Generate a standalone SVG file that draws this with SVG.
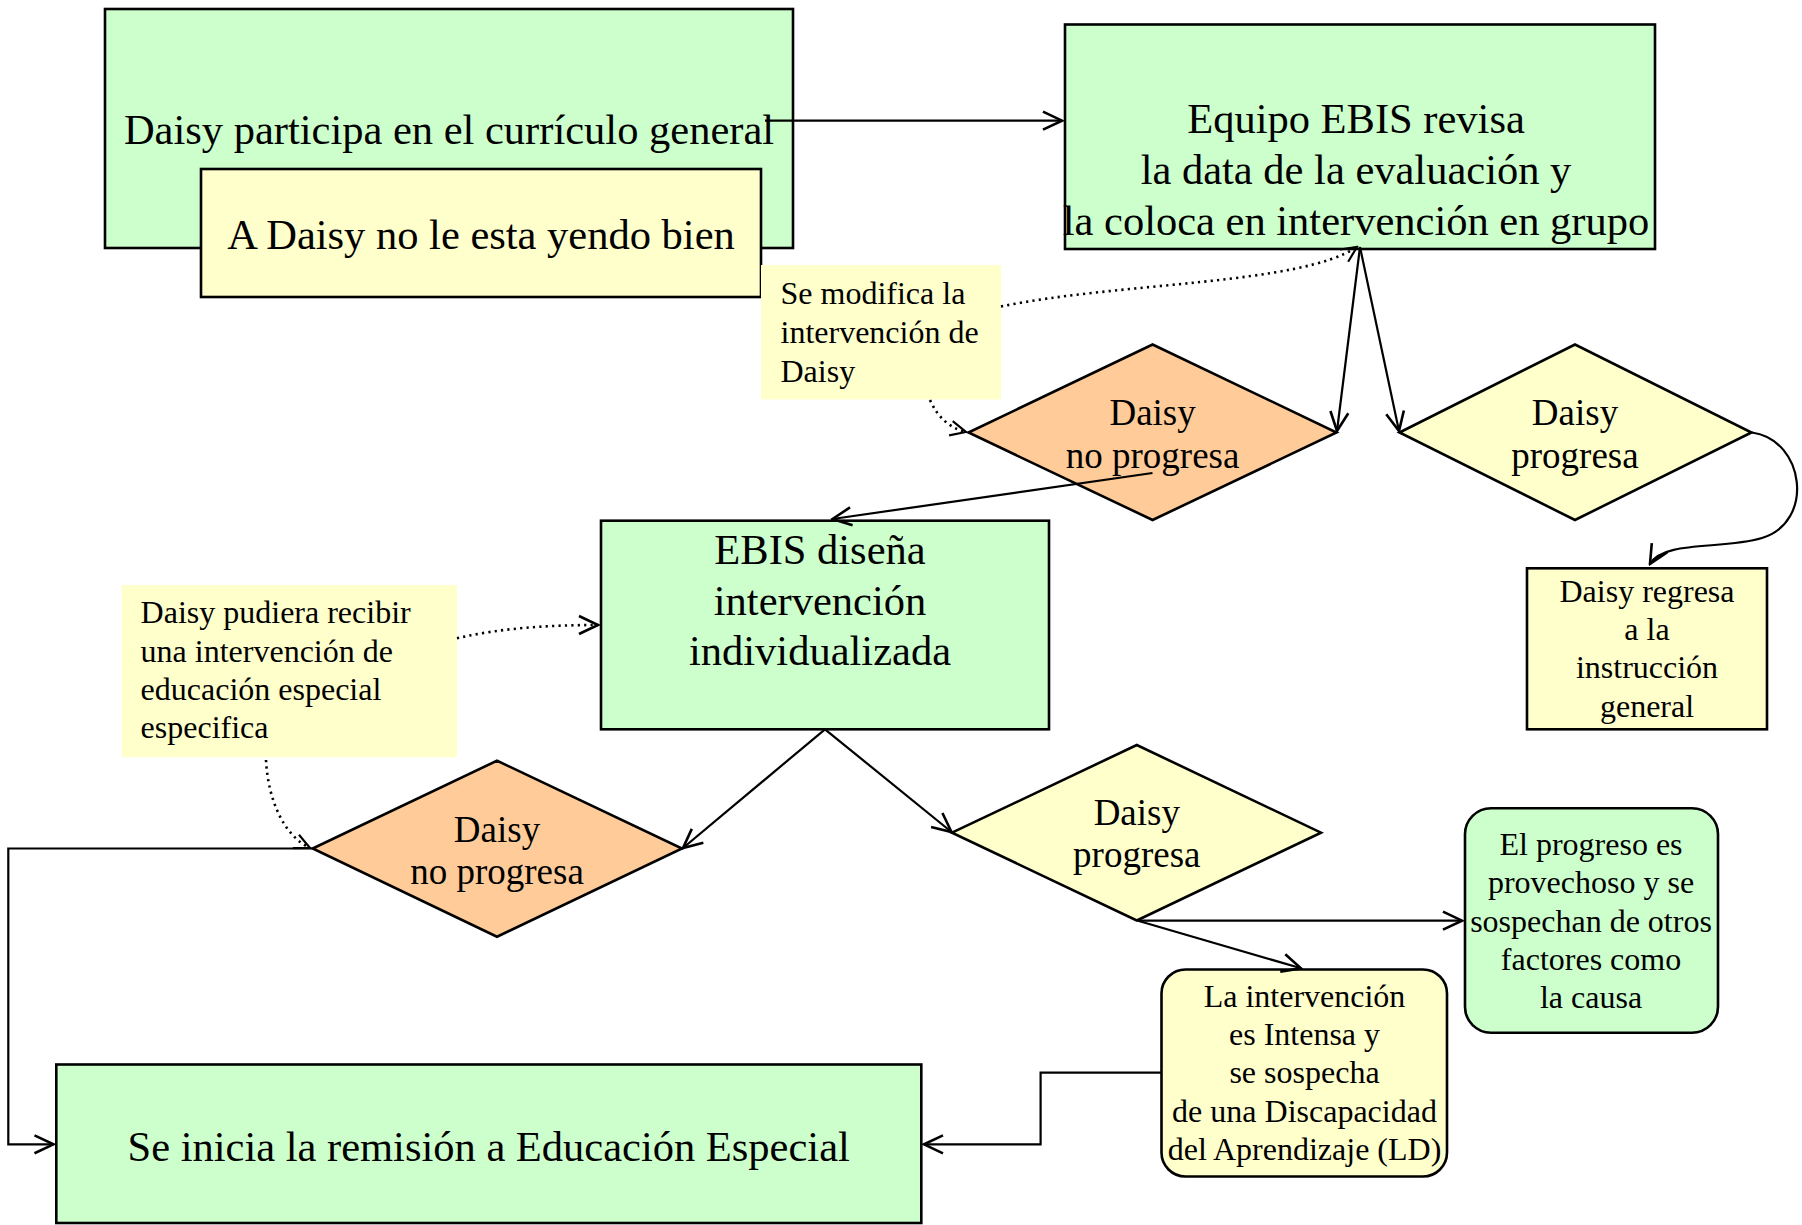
<svg xmlns="http://www.w3.org/2000/svg" width="1802" height="1225" viewBox="0 0 1802 1225">
<style>
.box{stroke:#000;stroke-width:2.6}
.g{fill:#CCFFCC}
.y{fill:#FFFFCC}
.o{fill:#FFCC99}
.note{fill:#FFFFCC;stroke:none}
text{font-family:"Liberation Serif","Times New Roman",serif;fill:#000}
.big{font-size:42.5px;text-anchor:middle}
.dia{font-size:37px;text-anchor:middle}
.sm{font-size:32px}
.smc{font-size:32px;text-anchor:middle}
.c{fill:none;stroke:#000;stroke-width:2.2}
.d{fill:none;stroke:#000;stroke-width:2.6;stroke-dasharray:2.2 4.2}
</style>
<defs>
<marker id="a" viewBox="0 0 22 22" refX="20" refY="11" markerWidth="22" markerHeight="22" markerUnits="userSpaceOnUse" orient="auto">
<path d="M1,2 L20,11 L1,20" fill="none" stroke="#000" stroke-width="2.6"/>
</marker>
<marker id="as" viewBox="0 0 22 22" refX="20" refY="11" markerWidth="18" markerHeight="18" markerUnits="userSpaceOnUse" orient="auto">
<path d="M1,2 L20,11 L1,20" fill="none" stroke="#000" stroke-width="2.6"/>
</marker>
</defs>

<g id="n-participa">
<rect class="box g" x="105" y="9" width="688" height="239"/>
<text class="big" x="449" y="144">Daisy participa en el currículo general</text>
</g>

<g id="n-noyendo">
<rect class="box y" x="201" y="169" width="560" height="128"/>
<text class="big" x="481" y="249">A Daisy no le esta yendo bien</text>
</g>

<g id="n-ebis-revisa">
<rect class="box g" x="1065" y="24.5" width="590" height="224.5"/>
<text class="big" x="1356" y="132.7">Equipo EBIS revisa</text>
<text class="big" x="1356" y="183.5">la data de la evaluación y</text>
<text class="big" x="1356" y="235">la coloca en intervención en grupo</text>
</g>

<g id="n-se-modifica">
<rect class="note" x="761" y="265" width="240" height="134.5"/>
<text class="sm" x="780.5" y="304">Se modifica la</text>
<text class="sm" x="780.5" y="343">intervención de</text>
<text class="sm" x="780.5" y="382">Daisy</text>
</g>

<g id="n-no-progresa-1">
<polygon class="box o" points="968.5,432.5 1152.6,344.5 1336.5,432.5 1152.6,520"/>
<text class="dia" x="1152.6" y="425">Daisy</text>
<text class="dia" x="1152.6" y="468">no progresa</text>
</g>

<g id="n-progresa-1">
<polygon class="box y" points="1399.5,432.5 1575,344.5 1751.5,432.5 1575,520"/>
<text class="dia" x="1575" y="425">Daisy</text>
<text class="dia" x="1575" y="468">progresa</text>
</g>

<g id="n-regresa">
<rect class="box y" x="1527" y="568.3" width="240" height="161"/>
<text class="smc" x="1647" y="601.7">Daisy regresa</text>
<text class="smc" x="1647" y="640">a la</text>
<text class="smc" x="1647" y="678.3">instrucción</text>
<text class="smc" x="1647" y="716.7">general</text>
</g>

<g id="n-ebis-disena">
<rect class="box g" x="601" y="520.7" width="448" height="208.6"/>
<text class="big" x="820" y="564">EBIS diseña</text>
<text class="big" x="820" y="615">intervención</text>
<text class="big" x="820" y="665">individualizada</text>
</g>

<g id="n-pudiera">
<rect class="note" x="121.7" y="585" width="335.3" height="172.3"/>
<text class="sm" x="140.6" y="623.3">Daisy pudiera recibir</text>
<text class="sm" x="140.6" y="661.7">una intervención de</text>
<text class="sm" x="140.6" y="700">educación especial</text>
<text class="sm" x="140.6" y="738.3">especifica</text>
</g>

<g id="n-no-progresa-2">
<polygon class="box o" points="312.7,848.5 497,760.7 682,848.5 497,936.7"/>
<text class="dia" x="497" y="842">Daisy</text>
<text class="dia" x="497" y="884">no progresa</text>
</g>

<g id="n-progresa-2">
<polygon class="box y" points="952,832.7 1136.8,745 1321,832.7 1136.8,920.5"/>
<text class="dia" x="1136.8" y="825">Daisy</text>
<text class="dia" x="1136.8" y="867">progresa</text>
</g>

<g id="n-provechoso">
<rect class="box g" x="1465" y="808.3" width="253" height="224.4" rx="26" ry="26"/>
<text class="smc" x="1591" y="855">El progreso es</text>
<text class="smc" x="1591" y="893.3">provechoso y se</text>
<text class="smc" x="1591" y="931.6">sospechan de otros</text>
<text class="smc" x="1591" y="970">factores como</text>
<text class="smc" x="1591" y="1008.3">la causa</text>
</g>

<g id="n-intensa">
<rect class="box y" x="1161.5" y="969.5" width="285.5" height="207" rx="24" ry="24"/>
<text class="smc" x="1304.5" y="1006.7">La intervención</text>
<text class="smc" x="1304.5" y="1045">es Intensa y</text>
<text class="smc" x="1304.5" y="1083.3">se sospecha</text>
<text class="smc" x="1304.5" y="1121.7">de una Discapacidad</text>
<text class="smc" x="1304.5" y="1160">del Aprendizaje (LD)</text>
</g>

<g id="n-remision">
<rect class="box g" x="56.3" y="1064.5" width="865" height="158.5"/>
<text class="big" x="488.7" y="1160.7">Se inicia la remisión a Educación Especial</text>
</g>

<g id="connectors">
<line class="c" x1="765" y1="120.7" x2="1062" y2="120.7" marker-end="url(#a)"/>
<line class="c" x1="1360" y1="247" x2="1337" y2="431" marker-end="url(#a)"/>
<line class="c" x1="1360" y1="247" x2="1399" y2="431" marker-end="url(#a)"/>
<path class="d" d="M1001,306.5 C1120,282 1300,285 1357,247" marker-end="url(#as)"/>
<path class="d" d="M930,400 C938,418 950,428 966,432" marker-end="url(#as)"/>
<line class="c" x1="1152.5" y1="473" x2="832.5" y2="519" marker-end="url(#a)"/>
<path class="c" d="M1752,432.5 C1805,440 1815,522 1762,538 C1722,550 1664,540 1650,564" marker-end="url(#a)"/>
<path class="d" d="M457,638.3 C500,628 550,625 598,625" marker-end="url(#a)"/>
<path class="d" d="M266,760 C268,800 284,836 310,848" marker-end="url(#as)"/>
<line class="c" x1="825" y1="729.3" x2="683" y2="848" marker-end="url(#a)"/>
<line class="c" x1="825" y1="729.3" x2="951.5" y2="832" marker-end="url(#a)"/>
<line class="c" x1="1138" y1="920.7" x2="1462" y2="920.7" marker-end="url(#a)"/>
<line class="c" x1="1138" y1="920.7" x2="1301" y2="968.3" marker-end="url(#a)"/>
<polyline class="c" points="312.7,848.5 8.3,848.5 8.3,1144.3 53.5,1144.3" marker-end="url(#a)"/>
<polyline class="c" points="1161.5,1072.7 1040.6,1072.7 1040.6,1144.3 924,1144.3" marker-end="url(#a)"/>
</g>
</svg>
